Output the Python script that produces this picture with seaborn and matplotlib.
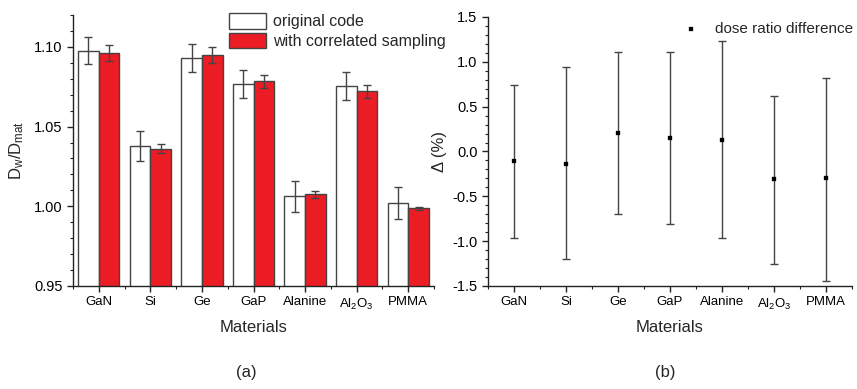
import numpy as np
import pandas as pd
import seaborn as sns
import matplotlib.pyplot as plt
from matplotlib.ticker import MultipleLocator

materials = ['GaN', 'Si', 'Ge', 'GaP', 'Alanine', 'Al$_2$O$_3$', 'PMMA']
original = [1.0975, 1.0376, 1.0931, 1.0766, 1.0063, 1.0755, 1.0019]
original_err = [0.0085, 0.0094, 0.0087, 0.0088, 0.0097, 0.0088, 0.0100]
correlated = [1.0962, 1.0362, 1.0950, 1.0783, 1.0075, 1.0722, 0.9987]
correlated_err = [0.0053, 0.0028, 0.0049, 0.0039, 0.0021, 0.0040, 0.0011]

delta = [-0.11, -0.14, 0.21, 0.15, 0.13, -0.31, -0.30]
delta_low = [-0.96, -1.20, -0.70, -0.81, -0.96, -1.25, -1.44]
delta_high = [0.74, 0.94, 1.11, 1.11, 1.23, 0.62, 0.82]

sns.set_style('ticks')
plt.rcParams['font.family'] = ['Liberation Sans', 'DejaVu Sans']
plt.rcParams['mathtext.default'] = 'regular'
plt.rcParams['axes.unicode_minus'] = False
narrow = ['Liberation Sans Narrow', 'DejaVu Sans Condensed', 'Liberation Sans']

red = '#ec1c24'

fig = plt.figure(figsize=(8.57, 3.89), dpi=100)
ax1 = fig.add_axes([0.0852, 0.2648, 0.4212, 0.6966])
ax2 = fig.add_axes([0.5694, 0.2648, 0.4247, 0.6915])

# (a) bars
df = pd.DataFrame({
    'material': materials * 2,
    'ratio': original + correlated,
    'series': ['original code'] * 7 + ['with correlated sampling'] * 7,
})
sns.barplot(data=df, x='material', y='ratio', hue='series', order=materials,
            palette=['white', red], saturation=1, errorbar=None, width=0.8, gap=0,
            edgecolor='#444444', linewidth=1.0, ax=ax1)
for cont, err in zip(ax1.containers, [original_err, correlated_err]):
    xs = [p.get_x() + p.get_width() / 2 for p in cont.patches]
    ys = [p.get_height() for p in cont.patches]
    ax1.errorbar(xs, ys, yerr=err, fmt='none', ecolor='#444444',
                 elinewidth=1.0, capsize=3, capthick=1.0)
ax1.set_ylim(0.95, 1.12)
ax1.set_xlim(-0.5, 6.5)
ax1.yaxis.set_major_locator(MultipleLocator(0.05))
ax1.yaxis.set_minor_locator(MultipleLocator(0.01))
ax1.xaxis.set_minor_locator(MultipleLocator(0.5))
ax1.set_ylabel('$D_w/D_{mat}$', fontsize=12, labelpad=6)
ax1.set_xlabel('Materials', fontsize=12, family=narrow, labelpad=6)
ax1.legend(loc='upper right', bbox_to_anchor=(1.05, 1.03), frameon=False,
           fontsize=11.5, handlelength=2.3, handleheight=1.1,
           labelspacing=0.2, borderaxespad=0, handletextpad=0.45)

# (b) points with error bars
pos = np.arange(len(materials))
ax2.errorbar(pos, delta,
             yerr=[np.array(delta) - np.array(delta_low),
                   np.array(delta_high) - np.array(delta)],
             fmt='none', ecolor='#444444', elinewidth=1.0, capsize=3, capthick=1.0)
sns.scatterplot(x=pos, y=delta, marker='s', s=7, color='black',
                edgecolor='black', label='dose ratio difference', ax=ax2, zorder=3)
ax2.set_xticks(pos)
ax2.set_xticklabels(materials)
ax2.set_xlim(-0.5, 6.5)
ax2.set_ylim(-1.5, 1.5)
ax2.yaxis.set_major_locator(MultipleLocator(0.5))
ax2.yaxis.set_minor_locator(MultipleLocator(0.1))
ax2.xaxis.set_minor_locator(MultipleLocator(0.5))
ax2.set_ylabel('Δ (%)', fontsize=12, labelpad=4)
ax2.set_xlabel('Materials', fontsize=12, family=narrow, labelpad=6)
ax2.legend(loc='upper right', bbox_to_anchor=(1.02, 1.005), frameon=False,
           fontsize=11, handletextpad=0.6, borderaxespad=0, markerscale=1.3)

for ax in (ax1, ax2):
    sns.despine(ax=ax)
    for s in ('left', 'bottom'):
        ax.spines[s].set_linewidth(1.0)
        ax.spines[s].set_color('#222222')
    ax.tick_params(axis='both', which='major', direction='out', length=4,
                   width=1.0, colors='#222222', labelcolor='black')
    ax.tick_params(axis='both', which='minor', direction='out', length=2.5,
                   width=0.8, colors='#222222')
    ax.tick_params(axis='y', labelsize=10.5)
    ax.tick_params(axis='x', labelsize=9.5)
    for lab in ax.get_xticklabels():
        lab.set_family(narrow)

fig.text(0.287, 0.03, '(a)', fontsize=12, ha='center')
fig.text(0.776, 0.03, '(b)', fontsize=12, ha='center')

fig.savefig('out.png', dpi=100)
